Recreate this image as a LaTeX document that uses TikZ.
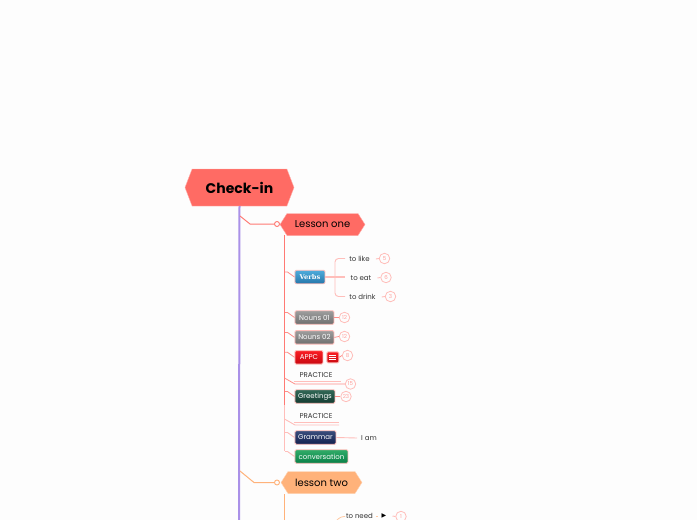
\documentclass[tikz,border=0pt]{standalone}
\usepackage{fontspec}
\setmainfont{Poppins}
\newfontfamily\slabfont{DejaVu Serif}
\usetikzlibrary{positioning,shapes.symbols,calc}
\definecolor{paper}{RGB}{253,253,253}
\definecolor{redmain}{RGB}{255,107,100}
\definecolor{redline}{RGB}{255,122,116}
\definecolor{redpale}{RGB}{255,190,186}
\definecolor{orangemain}{RGB}{255,178,122}
\definecolor{purple}{RGB}{170,145,232}
\definecolor{verbtop}{RGB}{78,172,220}
\definecolor{verbbot}{RGB}{38,118,170}
\definecolor{greytop}{RGB}{158,158,158}
\definecolor{greybot}{RGB}{110,110,110}
\definecolor{redtop}{RGB}{250,30,36}
\definecolor{redbot}{RGB}{200,8,16}
\definecolor{greettop}{RGB}{50,105,88}
\definecolor{greetbot}{RGB}{20,58,48}
\definecolor{gramtop}{RGB}{58,78,125}
\definecolor{grambot}{RGB}{20,32,78}
\definecolor{convtop}{RGB}{48,172,104}
\definecolor{convbot}{RGB}{10,128,72}
\tikzset{
hexbox/.style={signal,signal to=west and east,draw=#1!55,fill=#1,inner sep=0pt,text=black},
tagbox/.style 2 args={draw=redpale,line width=.9pt,rounded corners=1.2pt,minimum height=13.5pt,inner sep=0pt,
  top color=#1,bottom color=#2,text=white,font=\fontsize{7}{8}\selectfont,anchor=west},
leaf/.style={font=\fontsize{7}{8}\selectfont,text=black!80,inner sep=0pt},
count/.style={circle,draw=redpale,line width=.8pt,minimum size=10.5pt,inner sep=0pt,text=redline!70,fill=paper,
  font=\fontsize{5.5}{5.5}\selectfont},
twig/.style={draw=redline!85,line width=.8pt},
palelink/.style={draw=redpale,line width=.9pt},
hollow/.style={circle,draw=#1,line width=.9pt,minimum size=5pt,inner sep=0pt},
}
\begin{document}
\begin{tikzpicture}[x=1pt,y=-1pt]
\useasboundingbox[fill=paper] (0,0) rectangle (697,520);
\coordinate (trunkend) at (239,520);
\coordinate (lessonrow) at (240,216);
\coordinate (tworow) at (240,471);
\coordinate (lessonbend) at (250,224);
\coordinate (twobend) at (254,482.5);
\node[hexbox=redmain,signal pointer angle=138,minimum width=109pt,minimum height=37pt,
font=\fontsize{14}{15}\selectfont\bfseries] (root) at (239.5,187.5) {Check-in\hspace{6pt}};
\node[hexbox=redmain,signal pointer angle=115,minimum width=85pt,minimum height=22pt,
font=\fontsize{10}{11}\selectfont] (one) at (322.5,224.5) {Lesson one\hspace{2pt}};
\node[hexbox=orangemain,signal pointer angle=115,minimum width=81pt,minimum height=22pt,
font=\fontsize{10}{11}\selectfont] (two) at (321.5,482.5) {lesson two\hspace{4pt}};
\node[hollow=redline] (onedot) at (277,224) {};
\node[hollow=orangemain] (twodot) at (277,482.5) {};
\coordinate (onedown) at (284.5,235);
\coordinate (onemid) at (284.5,405);
\coordinate (oneend) at (284.5,451);
\coordinate (twodown) at (284.5,494);
\coordinate (twoend) at (284.5,520);
% first lesson
\node[tagbox={verbtop}{verbbot},minimum width=30pt,font=\slabfont\bfseries\fontsize{6.6}{8}\selectfont] (verbs) at (294.5,277) {Verbs};
\node[tagbox={greytop}{greybot},minimum width=39pt] (nouna) at (294.5,317.5) {Nouns 01};
\node[tagbox={greytop}{greybot},minimum width=39pt,below=5.5pt of nouna.south west,anchor=north west] (nounb) {Nouns 02};
\node[tagbox={redtop}{redbot},minimum width=28pt,below=5.5pt of nounb.south west,anchor=north west] (appc) {APPC};
\node[tagbox={redtop}{redbot},minimum width=12pt,minimum height=11pt,right=3pt of appc] (menu) {};
\foreach \y in {-2.4,0,2.4} \draw[white,line width=.8pt] ($(menu.center)+(-3.5,\y)$) -- ++(7,0);
\node[leaf] (pra) at (316,375) {PRACTICE};
\node[tagbox={greettop}{greetbot},minimum width=40pt] (greet) at (294.5,396.5) {Greetings};
\node[leaf] (prb) at (316,416) {PRACTICE};
\node[tagbox={gramtop}{grambot},minimum width=41pt] (gram) at (294.5,437.5) {Grammar};
\node[tagbox={convtop}{convbot},minimum width=53pt] (conv) at (294.5,456.5) {conversation};
\node[leaf] (like) at (359.5,259) {to like};
\node[leaf] (eat) at (361,278) {to eat};
\node[leaf] (drink) at (362.5,297) {to drink};
\node[leaf] (iam) at (369,438) {I am};
\node[leaf] (need) at (359.5,515.6) {to need};
\node[font=\fontsize{6}{7}\selectfont,inner sep=0pt] (flag) at (384,516) {\fontspec{DejaVu Sans}▶};
\node[count] (clike) at (384.5,258.5) {5};
\node[count] (ceat) at (386,277.5) {6};
\node[count] (cdrink) at (390.5,296.5) {3};
\node[count] (cnouna) at (344.5,317.5) {12};
\node[count] (cnounb) at (344.5,336.5) {12};
\node[count] (cappc) at (347.5,355.5) {8};
\node[count] (cpra) at (350.5,384) {15};
\node[count] (cgreet) at (346,396.5) {23};
\node[count] (cneed) at (401,516.5) {1};
\coordinate (praleft) at (294,381);
\coordinate (praright) at (341,381);
\coordinate (prbleft) at (294,422);
\coordinate (prbright) at (339,422);
\coordinate (prblow) at (339,425);
\coordinate (prafork) at (284.5,378);
\coordinate (prabend) at (295,384);
\coordinate (prbfork) at (284.5,419);
\coordinate (prbbend) at (295,425);
\coordinate (forktop) at (345,258.5);
\coordinate (forkbot) at (345,296.5);
\coordinate (forkmid) at (345,277);
\coordinate (needa) at (337,520);
\coordinate (needb) at (345,516.5);
% connectors
\draw[purple,line width=2pt] (root.south) -- (trunkend);
\draw[redline,line width=1pt] (lessonrow) -- (lessonbend) -- (onedot.west);
\draw[orangemain,line width=1pt] (tworow) -- (twobend) -- (twodot.west);
\draw[redline,line width=1.4pt] (onedown) -- (onemid);
\draw[redpale,line width=1.4pt] (onemid) -- (oneend);
\draw[orangemain,line width=1.8pt] (twodown) -- (twoend);
\foreach \n in {verbs,nouna,nounb,appc,greet} \draw[twig] (\n.west) -- ++(-7,-5) -- ++(-2.5,0);
\foreach \n in {gram,conv} \draw[palelink] (\n.west) -- ++(-7,-5) -- ++(-2.5,0);
\draw[twig] (prafork) -- (prabend) -- (cpra.west);
\draw[palelink] (prbfork) -- (prbbend) -- (prblow);
\draw[palelink] (praleft) -- (praright);
\draw[palelink] (prbleft) -- (prbright);
\draw[palelink,line width=1.1pt] (verbs.east) -- (forkmid);
\draw[palelink,rounded corners=3.5pt] (forktop) -- (335,258.5) -- (335,296.5) -- (forkbot);
\foreach \a/\b in {like/clike,eat/ceat,drink/cdrink} \draw[palelink] (\a.east) ++(6,0) -- (\b.west);
\draw[palelink] (flag.east) ++(6,0) -- (cneed.west);
\draw[twig] (nouna.east) -- (cnouna.west);
\draw[twig] (nounb.east) -- (cnounb.west);
\draw[twig] (menu.east) -- (cappc.west);
\draw[twig] (greet.east) -- (cgreet.west);
\draw[palelink] (gram.east) -- ($(iam.west)+(-4,0)$);
\draw[orangemain!70,line width=.8pt,rounded corners=3pt] (needa) -- (341,516.5) -- (needb);
\draw[orangemain!70,line width=.8pt] (376,516.5) -- (378,516.5);
\end{tikzpicture}
\end{document}
